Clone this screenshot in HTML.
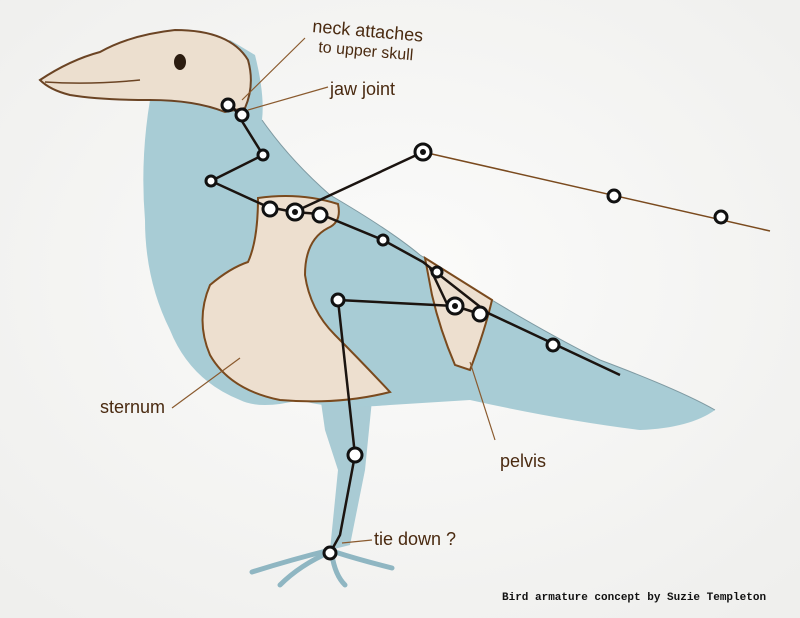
<!DOCTYPE html>
<html><head><style>html,body{margin:0;padding:0;background:#fafaf8;}svg{display:block}</style></head>
<body>
<svg width="800" height="618" viewBox="0 0 800 618" xmlns="http://www.w3.org/2000/svg">
<defs>
<radialGradient id="bg" cx="50%" cy="45%" r="70%"><stop offset="0" stop-color="#fbfbfa"/><stop offset="1" stop-color="#efefed"/></radialGradient>
</defs>
<rect width="800" height="618" fill="url(#bg)"/>
<!-- feet -->
<g stroke="#8fb6c2" stroke-width="5" fill="none" stroke-linecap="round">
<path d="M330 550 Q290 560 252 572"/><path d="M330 552 Q300 565 280 585"/><path d="M335 552 Q360 560 392 568"/><path d="M332 555 Q335 575 345 585"/>
</g>
<!-- legs -->
<path d="M320 395 L372 400 L365 470 L350 545 L330 550 L338 470 L325 430 Z" fill="#a9cbd4"/>
<!-- body -->
<path d="M150 100 Q180 70 230 40 L255 55 Q265 95 262 120 Q290 160 330 195 Q390 230 420 255 Q520 320 600 360 Q680 390 715 410 Q690 428 640 430 Q560 420 470 400 L390 405 Q330 410 300 400 Q260 410 240 400 Q190 380 170 330 Q145 280 145 220 Q140 160 150 100 Z" fill="#a8ccd5"/>
<path d="M262 120 Q290 160 330 195 Q390 230 420 255 Q520 320 600 360 Q680 390 715 410" fill="none" stroke="#7f9aa2" stroke-width="1"/>
<!-- skull -->
<path d="M40 80 Q70 60 100 52 Q130 35 175 30 Q230 30 248 60 Q255 85 245 108 L225 112 Q195 100 150 100 Q100 100 70 95 Q50 90 40 80 Z" fill="#ecdfcf" stroke="#6b4424" stroke-width="2"/>
<path d="M45 82 Q90 85 140 80" fill="none" stroke="#6b4424" stroke-width="1.5"/>
<ellipse cx="180" cy="62" rx="6" ry="8" fill="#2b1c10"/>
<!-- sternum -->
<path d="M258 198 Q300 192 338 204 Q342 222 328 228 Q305 240 305 275 Q310 310 335 335 Q360 360 390 392 Q340 405 280 400 Q230 390 210 355 Q195 320 210 285 Q230 268 248 262 Q258 240 258 198 Z" fill="#eddfcf" stroke="#7a4a1e" stroke-width="2"/>
<!-- pelvis -->
<path d="M425 258 Q460 280 492 300 Q485 330 470 370 L455 365 Q440 330 432 295 Z" fill="#eddfcf" stroke="#7a4a1e" stroke-width="2"/>
<!-- bones -->
<g stroke="#1b1410" stroke-width="2.5" fill="none">
<polyline points="232,105 240,118 263,155 211,181 268,207 294,212 320,214 383,240 423,262 488,313 620,375"/>
<line x1="294" y1="212" x2="423" y2="152"/>
<polyline points="338,300 455,306 480,314"/>
<polyline points="338,300 355,455 340,535 330,553"/>
<line x1="430" y1="268" x2="448" y2="306"/>
</g>
<line x1="423" y1="152" x2="770" y2="231" stroke="#7a4a1e" stroke-width="1.5"/>
<!-- label lines -->
<g stroke="#8a5a2e" stroke-width="1.2" fill="none">
<line x1="305" y1="38" x2="242" y2="100"/>
<line x1="328" y1="87" x2="248" y2="110"/>
<line x1="172" y1="408" x2="240" y2="358"/>
<line x1="495" y1="440" x2="470" y2="362"/>
<line x1="372" y1="540" x2="342" y2="543"/>
</g>
<!-- joints -->
<g fill="#fff" stroke="#111" stroke-width="3">
<circle cx="228" cy="105" r="6"/><circle cx="242" cy="115" r="6"/>
<circle cx="263" cy="155" r="5"/><circle cx="211" cy="181" r="5"/>
<circle cx="270" cy="209" r="7"/><circle cx="295" cy="212" r="8"/><circle cx="320" cy="215" r="7"/>
<circle cx="383" cy="240" r="5"/><circle cx="423" cy="152" r="8"/>
<circle cx="614" cy="196" r="6"/><circle cx="721" cy="217" r="6"/>
<circle cx="338" cy="300" r="6"/><circle cx="437" cy="272" r="5"/>
<circle cx="455" cy="306" r="8"/><circle cx="480" cy="314" r="7"/>
<circle cx="553" cy="345" r="6"/><circle cx="355" cy="455" r="7"/>
<circle cx="330" cy="553" r="6"/>
</g>
<g fill="#111"><circle cx="423" cy="152" r="3"/><circle cx="295" cy="212" r="3"/><circle cx="455" cy="306" r="3"/></g>
<!-- text -->
<g font-family="'Liberation Sans', sans-serif" fill="#4a2a10" font-size="18">
<text x="312" y="32" transform="rotate(5 312 32)">neck attaches</text>
<text x="318" y="52" transform="rotate(5 318 52)" font-size="16">to upper skull</text>
<text x="330" y="95">jaw joint</text>
<text x="100" y="413">sternum</text>
<text x="500" y="467">pelvis</text>
<text x="374" y="545">tie down ?</text>
</g>
<text x="502" y="600" font-family="'Liberation Mono', monospace" font-size="11" font-weight="bold" fill="#111">Bird armature concept by Suzie Templeton</text>
</svg>
</body></html>
